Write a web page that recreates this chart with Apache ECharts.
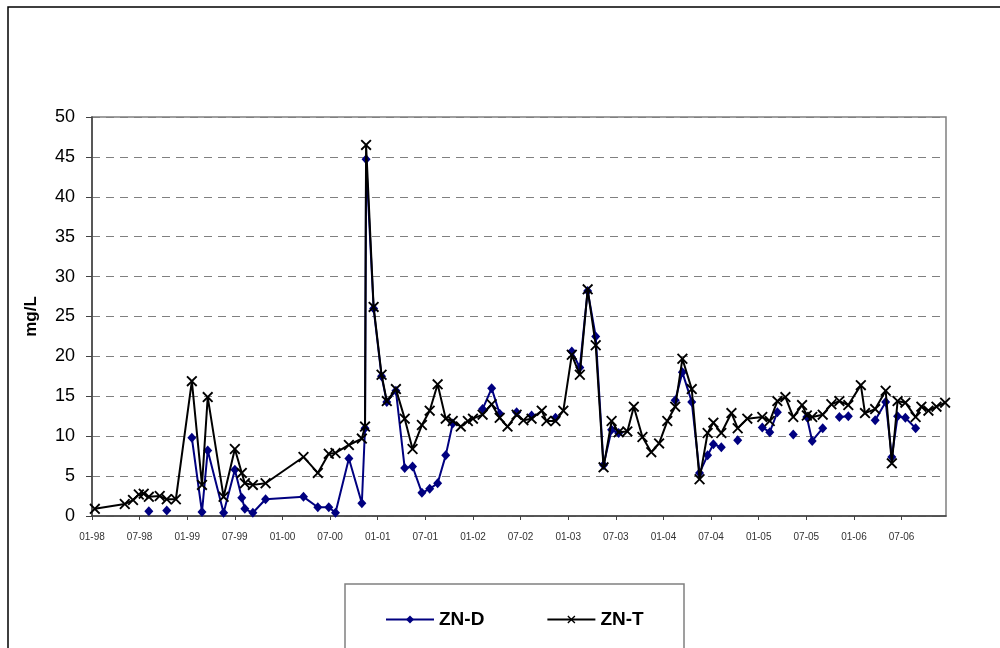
<!DOCTYPE html>
<html><head><meta charset="utf-8">
<script src="https://cdn.jsdelivr.net/npm/echarts@6/dist/echarts.min.js"></script>
<style>html,body{margin:0;padding:0;background:#fff}#c{width:1000px;height:648px}</style>
</head><body><div id="c"></div>
<script>
const dates = ["1998-01-12","1998-05-05","1998-06-06","1998-06-28","1998-07-17","1998-08-06","1998-09-17","1998-10-14","1998-11-18",
"1999-01-19","1999-02-25","1999-03-19","1999-05-19","1999-07-01","1999-07-28","1999-08-09","1999-09-09","1999-10-28",
"2000-03-21","2000-05-15","2000-06-26","2000-07-22","2000-09-12","2000-11-01","2000-11-13","2000-11-17","2000-12-16",
"2001-01-16","2001-02-05","2001-03-10","2001-04-13","2001-05-13","2001-06-18","2001-07-18","2001-08-18","2001-09-18","2001-10-15","2001-11-15","2001-12-12",
"2002-01-01","2002-02-07","2002-03-12","2002-04-12","2002-05-12","2002-06-16","2002-07-12","2002-08-13","2002-09-21","2002-10-09","2002-11-13","2002-12-13",
"2003-01-15","2003-02-14","2003-03-15","2003-04-15","2003-05-15","2003-06-15","2003-07-12","2003-08-15","2003-09-09","2003-10-12","2003-11-15","2003-12-15",
"2004-01-16","2004-02-15","2004-03-13","2004-04-18","2004-05-18","2004-06-18","2004-07-10","2004-08-10","2004-09-18","2004-10-12","2004-11-18",
"2005-01-15","2005-02-12","2005-03-12","2005-04-12","2005-05-12","2005-06-15","2005-07-03","2005-07-24","2005-09-03","2005-10-06","2005-11-06","2005-12-10",
"2006-01-28","2006-02-12","2006-03-22","2006-05-01","2006-05-25","2006-06-16","2006-07-16","2006-08-25","2006-09-16","2006-10-13","2006-11-13","2006-12-16"];
const znT = [0.9,1.5,2.0,2.7,2.8,2.4,2.5,2.1,2.1,
16.9,3.9,14.9,2.4,8.4,5.4,4.1,3.9,4.1,
7.4,5.4,7.8,7.9,8.9,9.7,11.2,46.5,26.2,
17.7,14.4,15.9,12.2,8.4,11.4,13.2,16.5,12.2,11.9,11.2,11.9,
12.2,12.7,14.0,12.3,11.2,12.7,12.0,12.2,13.2,11.9,11.9,13.2,
20.2,17.7,28.4,21.4,6.1,11.9,10.5,10.6,13.7,9.9,8.0,9.1,
11.9,13.7,19.7,15.9,4.6,10.4,11.7,10.4,12.9,11.0,12.2,
12.4,11.9,14.4,14.9,12.4,13.9,12.6,12.4,12.7,14.0,14.4,13.9,
16.4,12.9,13.4,15.7,6.6,14.4,14.2,12.4,13.7,13.2,13.7,14.2];
const znD = [null,null,null,null,null,0.6,null,0.7,null,
9.8,0.5,8.2,0.4,5.8,2.3,0.9,0.4,2.1,
2.4,1.1,1.1,0.4,7.2,1.6,11.0,44.7,26.0,
17.5,14.3,15.7,6.0,6.2,2.9,3.4,4.1,7.6,11.6,null,null,
null,13.4,16.0,12.8,null,13.0,null,12.6,null,null,12.3,null,
20.6,18.6,28.2,22.5,6.4,10.8,10.4,null,null,null,null,null,
null,14.5,18.0,14.3,5.4,7.6,9.0,8.6,null,9.5,null,
11.1,10.5,13.0,null,10.2,null,12.4,9.4,11.0,null,12.4,12.5,
null,null,12.0,14.3,7.4,12.5,12.3,11.0,null,null,null,null];
const yTicks = [0,5,10,15,20,25,30,35,40,45,50];

function toMonth(s){
  const [y,m,d] = s.split('-').map(Number);
  const dim = new Date(y, m, 0).getDate();
  return (y-1998)*12 + (m-1) + (d-1)/dim;
}
const xs = dates.map(toMonth);
const dataT = xs.map((x,i)=>[x, znT[i]]);
const dataD = xs.map((x,i)=>[x, znD[i]]);
const crossPath = 'path://M0,1.2L1.2,0L5,3.8L8.8,0L10,1.2L6.2,5L10,8.8L8.8,10L5,6.2L1.2,10L0,8.8L3.8,5Z';

const chart = echarts.init(document.getElementById('c'));
chart.setOption({
  animation:false,
  backgroundColor:'#fff',
  graphic:[
    {type:'rect', shape:{x:8,y:7,width:1100,height:700}, style:{fill:'none',stroke:'#000',lineWidth:1.5}, z:-10},
    {type:'rect', shape:{x:345,y:584,width:339,height:100}, style:{fill:'#fff',stroke:'#808080',lineWidth:1.5}, z:-5}
  ],
  grid:{left:92, top:117, right:54, bottom:132, show:true, borderColor:'#808080', borderWidth:1.5},
  legend:{
    left:380, top:605, itemWidth:48, itemHeight:10, itemGap:62,
    textStyle:{fontFamily:'Liberation Sans, Arial', fontSize:19, fontWeight:'bold', color:'#000'},
    data:['ZN-D','ZN-T']
  },
  xAxis:{
    type:'value', min:0, max:107.6, interval:6,
    axisLine:{show:true, onZero:false, lineStyle:{color:'#404040', width:1.5}},
    axisTick:{show:true, length:4, inside:false, lineStyle:{color:'#404040'}},
    splitLine:{show:false},
    axisLabel:{margin:16, fontFamily:'Liberation Sans, Arial', fontSize:10, color:'#333',
      showMaxLabel:false,
      formatter:function(v){
        const r = Math.round(v);
        if (Math.abs(v-r)>1e-6 || r%6!==0) return '';
        const y = 1998 + Math.floor(r/12), mo = r%12 + 1;
        return (mo<10?'0':'')+mo+'-'+String(y).slice(2);
      }}
  },
  yAxis:{
    type:'value', min:0, max:50, interval:5,
    name:'mg/L', nameLocation:'middle', nameGap:52,
    nameTextStyle:{fontFamily:'Liberation Sans, Arial', fontSize:17, fontWeight:'bold', color:'#000'},
    axisLine:{show:true, lineStyle:{color:'#404040', width:1.5}},
    axisTick:{show:true, length:6, lineStyle:{color:'#404040'}},
    axisLabel:{margin:17, fontFamily:'Liberation Sans, Arial', fontSize:18, color:'#000',
      formatter:function(v){ return yTicks.indexOf(v)>=0 ? String(v) : ''; }},
    splitLine:{show:true, lineStyle:{color:'#808080', type:[8,6], width:1}}
  },
  series:[
    {name:'ZN-D', type:'line', data:dataD, connectNulls:false, clip:false,
     symbol:'diamond', symbolSize:[9,10], showAllSymbol:true,
     lineStyle:{color:'#000080', width:2}, itemStyle:{color:'#000080'}, z:2},
    {name:'ZN-T', type:'line', data:dataT, clip:false,
     symbol:crossPath, symbolSize:11, showAllSymbol:true,
     lineStyle:{color:'#000', width:2}, itemStyle:{color:'#000'}, z:3}
  ]
});
</script></body></html>
